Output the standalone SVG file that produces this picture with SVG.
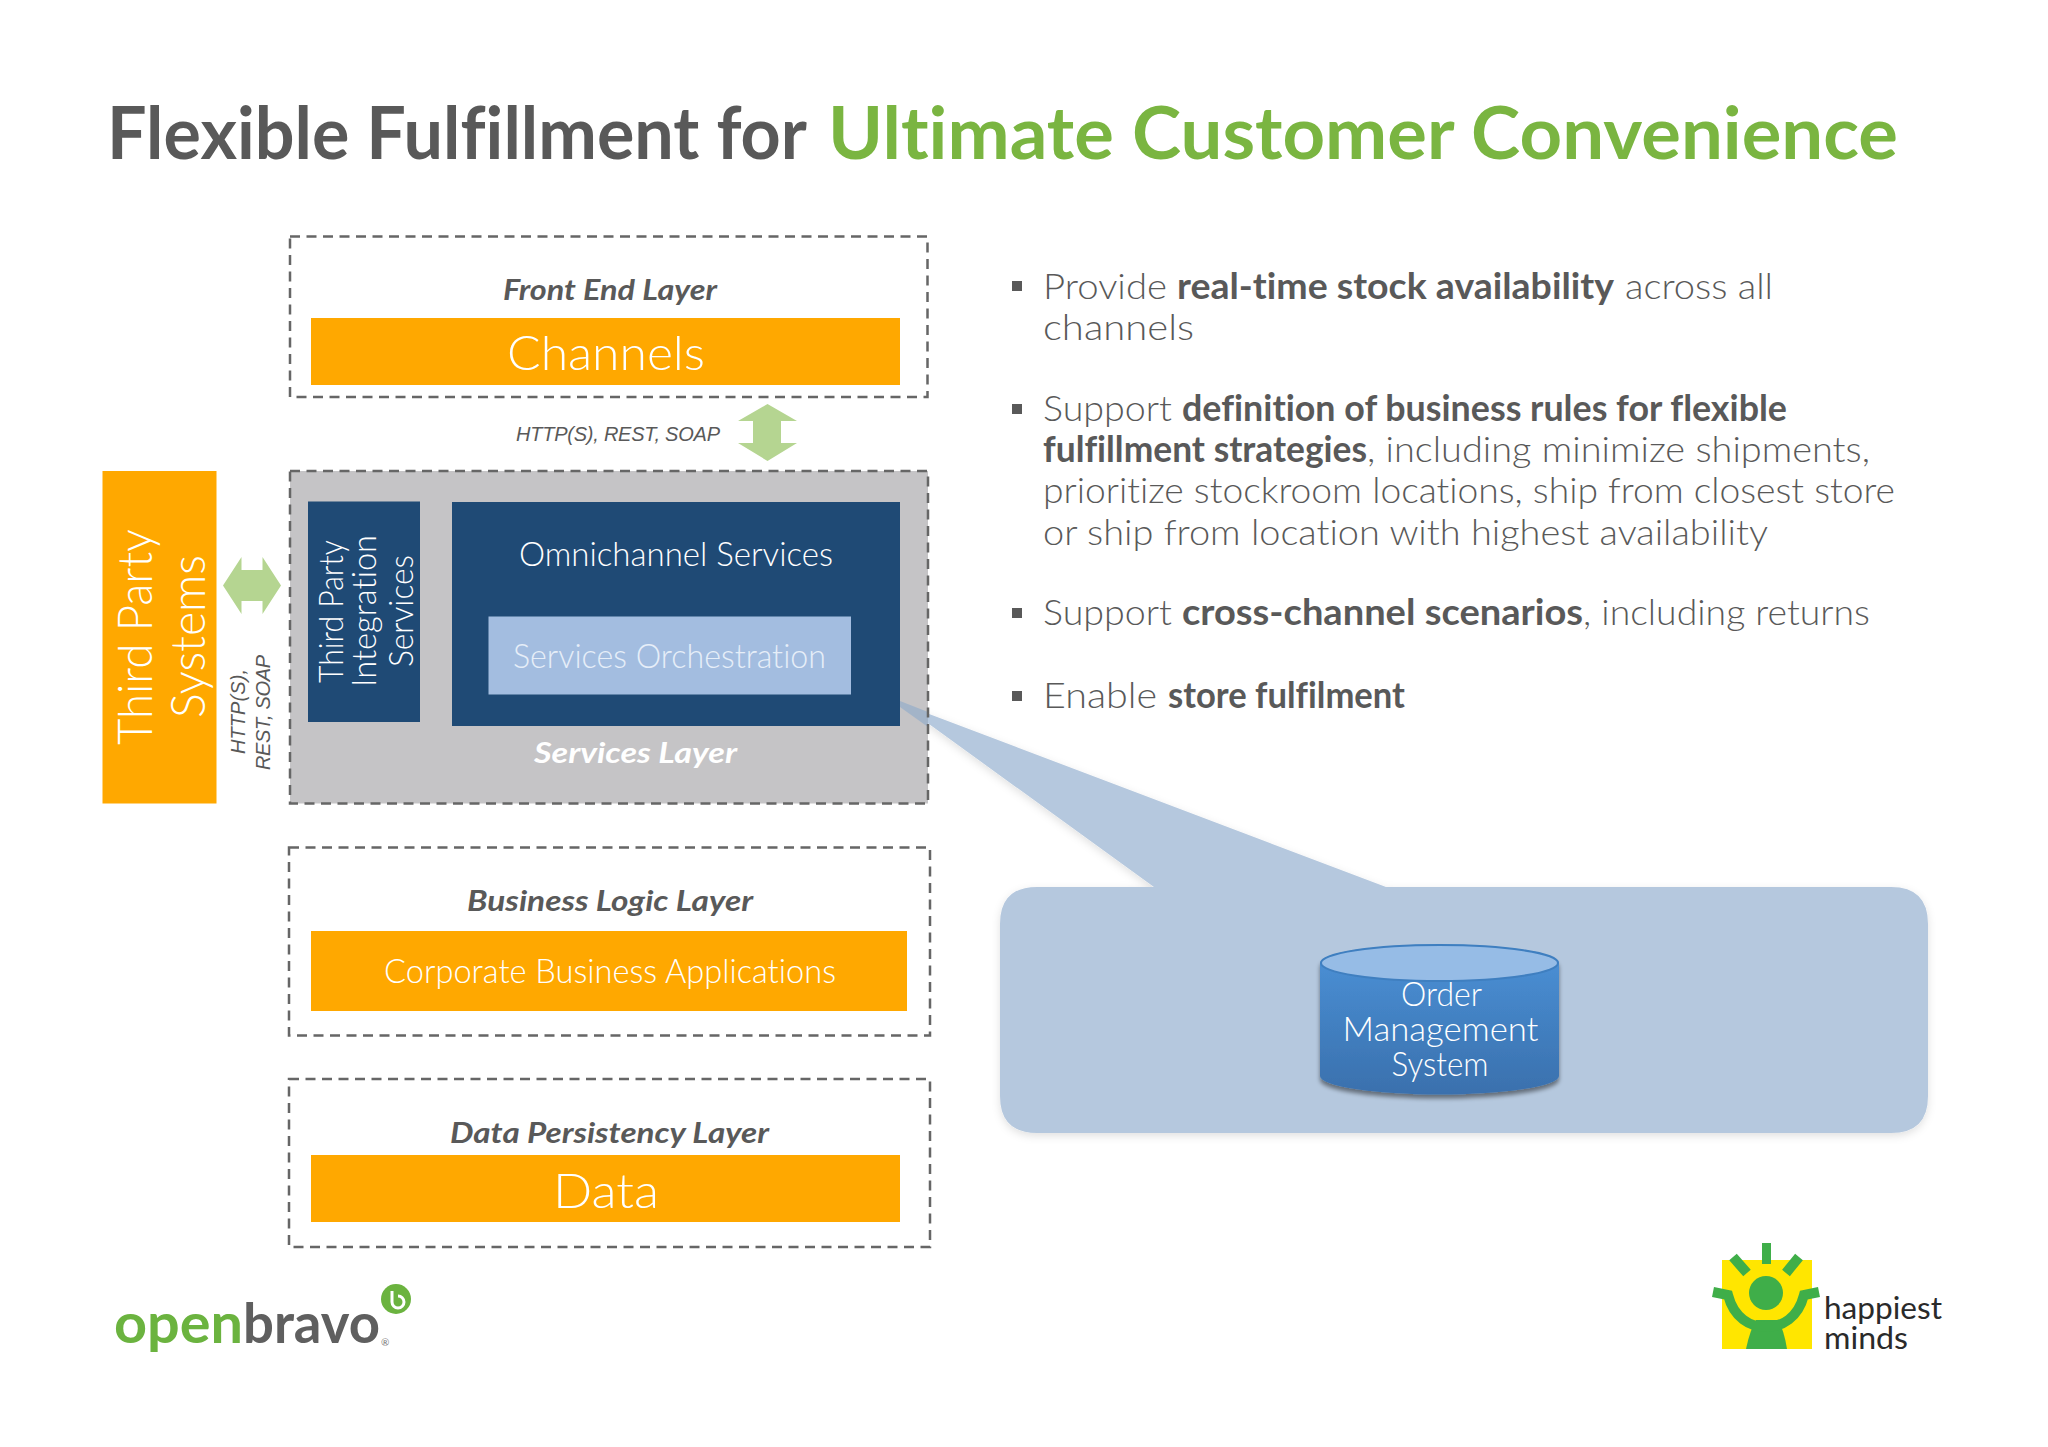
<svg xmlns="http://www.w3.org/2000/svg" width="2048" height="1447" viewBox="0 0 2048 1447">
<style>
text{font-family:"Lato","Liberation Sans",sans-serif;font-variant-ligatures:none}
.h{font-size:72px;font-weight:700}
.g{fill:#595959}.gr{fill:#7ab541}.w{fill:#fff}
.b{font-size:36px;font-weight:300;fill:#595959}
.bb{font-size:36px;font-weight:700;fill:#595959}
.lay{font-size:28px;font-weight:700;font-style:italic;fill:#595959}
.big{font-size:48px;font-weight:300;fill:#fff}
.mid{font-size:33px;font-weight:300;fill:#fff}
.proto{font-family:"Liberation Sans",Arial,sans-serif;font-size:20px;font-style:italic;fill:#595959}
.dash{fill:none;stroke:#666;stroke-width:2.5;stroke-dasharray:10 6.500}
.or{fill:#ffa800}.navy{fill:#1f4a75}.arr{fill:#b5d591}
.sq{fill:#595959}
</style>
<defs>
<linearGradient id="cyl" x1="0" y1="0" x2="0" y2="1"><stop offset="0" stop-color="#4b92d8"/><stop offset="1" stop-color="#3a70ad"/></linearGradient>
<filter id="sh" x="-5%" y="-5%" width="110%" height="115%"><feDropShadow dx="0" dy="3" stdDeviation="4" flood-color="#000" flood-opacity="0.12"/></filter>
<filter id="sh2" x="-5%" y="-5%" width="110%" height="115%"><feDropShadow dx="0" dy="4" stdDeviation="2" flood-color="#000" flood-opacity="0.45"/></filter>
</defs>
<rect width="2048" height="1447" fill="#fff"/>

<g id="title">
<text class="h g" x="107" y="159" textLength="700" lengthAdjust="spacingAndGlyphs">Flexible Fulfillment for</text>
<text class="h gr" x="828" y="159" textLength="1070" lengthAdjust="spacingAndGlyphs">Ultimate Customer Convenience</text>
</g>

<g id="connectors">
<polygon class="arr" points="767.5,404 797,421 781,421 781,443 797,443 767.5,461 738,443 753,443 753,421 738,421"/>
<polygon class="arr" points="223,585.5 241.5,557 241.5,570 262.5,570 262.5,557 281,585.5 262.5,614 262.5,601 241.5,601 241.5,614"/>
</g>

<g id="front-end-layer">
<rect class="dash" x="290" y="236.500" width="637.500" height="160.500"/>
<text class="lay" x="503" y="300" textLength="214" lengthAdjust="spacingAndGlyphs">Front End Layer</text>
</g>
<g id="channels">
<rect class="or" x="311" y="318" width="589" height="67"/>
<text class="big" x="507" y="370" textLength="198" lengthAdjust="spacingAndGlyphs">Channels</text>
</g>
<text class="proto" x="516" y="440.500" textLength="204">HTTP(S), REST, SOAP</text>

<g id="third-party-systems">
<rect class="or" x="102.500" y="471" width="114" height="332.500"/>
<text class="big" transform="translate(152,745) rotate(-90)" textLength="216" lengthAdjust="spacingAndGlyphs">Third Party</text>
<text class="big" transform="translate(205,718) rotate(-90)" textLength="163" lengthAdjust="spacingAndGlyphs">Systems</text>
</g>
<g id="third-party-protocols">
<text class="proto" transform="translate(245,754) rotate(-90)" textLength="85">HTTP(S),</text>
<text class="proto" transform="translate(270,770) rotate(-90)" textLength="115">REST, SOAP</text>
</g>

<g id="callout">
<path filter="url(#sh)" fill="#b5c8de" d="M1037,887H1154L900,703L1386,887H1891Q1928,887 1928,924V1096Q1928,1133 1891,1133H1037Q1000,1133 1000,1096V924Q1000,887 1037,887Z"/>
</g>

<g id="services-layer">
<rect x="290" y="471" width="638" height="332.500" fill="#c5c4c6"/>
<polygon points="900,701 928,712 928,727 900,707" fill="#a3b4c8"/>
<rect class="dash" x="290" y="471" width="638" height="332.500"/>
<text class="lay" style="fill:#fff" x="534" y="762.500" textLength="203" lengthAdjust="spacingAndGlyphs">Services Layer</text>
</g>
<g id="third-party-integration">
<rect class="navy" x="308" y="501.500" width="112" height="220.500"/>
<text class="mid" transform="translate(343,683) rotate(-90)" textLength="143" lengthAdjust="spacingAndGlyphs">Third Party</text>
<text class="mid" transform="translate(376,687) rotate(-90)" textLength="152" lengthAdjust="spacingAndGlyphs">Integration</text>
<text class="mid" transform="translate(413,667) rotate(-90)" textLength="112" lengthAdjust="spacingAndGlyphs">Services</text>
</g>

<g id="omnichannel-services">
<rect class="navy" x="452" y="502" width="448" height="224"/>
<text class="mid" x="519" y="566" textLength="314" lengthAdjust="spacingAndGlyphs">Omnichannel Services</text>
</g>
<g id="services-orchestration">
<rect x="488.500" y="616.500" width="362.500" height="78" fill="#a3bde0"/>
<text class="mid" style="fill:#e6eef8" x="513" y="668" textLength="313" lengthAdjust="spacingAndGlyphs">Services Orchestration</text>
</g>

<g id="business-logic-layer">
<rect class="dash" x="289" y="847.500" width="641" height="188"/>
<text class="lay" x="467" y="911" textLength="286" lengthAdjust="spacingAndGlyphs">Business Logic Layer</text>
</g>
<g id="corporate-business-applications">
<rect class="or" x="311" y="931" width="596" height="80"/>
<text class="mid" x="384" y="983" textLength="452" lengthAdjust="spacingAndGlyphs">Corporate Business Applications</text>
</g>
<g id="data-persistency-layer">
<rect class="dash" x="289" y="1079" width="641" height="168"/>
<text class="lay" x="450" y="1143" textLength="319" lengthAdjust="spacingAndGlyphs">Data Persistency Layer</text>
</g>
<g id="data">
<rect class="or" x="311" y="1155" width="589" height="67"/>
<text class="big" x="553" y="1207.500" textLength="106" lengthAdjust="spacingAndGlyphs">Data</text>
</g>

<g id="order-management-system">
<path filter="url(#sh2)" fill="url(#cyl)" d="M1320,963A119.500,18.500 0 0 1 1559,963V1076A119.500,18.500 0 0 1 1320,1076Z"/>
<ellipse cx="1439.500" cy="963" rx="118.500" ry="18" fill="#96bce6" stroke="#3f7fc0" stroke-width="2"/>
<text class="mid" x="1401" y="1006" textLength="81" lengthAdjust="spacingAndGlyphs">Order</text>
<text class="mid" x="1342.500" y="1041" textLength="196" lengthAdjust="spacingAndGlyphs">Management</text>
<text class="mid" x="1391.500" y="1076" textLength="97" lengthAdjust="spacingAndGlyphs">System</text>
</g>

<g id="bullets">
<rect class="sq" x="1012" y="281" width="10" height="10"/>
<rect class="sq" x="1012" y="404" width="10" height="10"/>
<rect class="sq" x="1012" y="608" width="10" height="10"/>
<rect class="sq" x="1012" y="691" width="10" height="10"/>
<text class="b" x="1043" y="299" textLength="124" lengthAdjust="spacingAndGlyphs">Provide</text>
<text class="bb" x="1177" y="299" textLength="437" lengthAdjust="spacingAndGlyphs">real-time stock availability</text>
<text class="b" x="1625" y="299" textLength="148" lengthAdjust="spacingAndGlyphs">across all</text>
<text class="b" x="1043" y="340" textLength="151" lengthAdjust="spacingAndGlyphs">channels</text>
<text class="b" x="1043" y="421" textLength="129" lengthAdjust="spacingAndGlyphs">Support</text>
<text class="bb" x="1182" y="421" textLength="605" lengthAdjust="spacingAndGlyphs">definition of business rules for flexible</text>
<text class="bb" x="1043" y="462" textLength="324" lengthAdjust="spacingAndGlyphs">fulfillment strategies</text>
<text class="b" x="1367" y="462" textLength="503" lengthAdjust="spacingAndGlyphs">, including minimize shipments,</text>
<text class="b" x="1043" y="503" textLength="852" lengthAdjust="spacingAndGlyphs">prioritize stockroom locations, ship from closest store</text>
<text class="b" x="1043" y="544.500" textLength="725" lengthAdjust="spacingAndGlyphs">or ship from location with highest availability</text>
<text class="b" x="1043" y="625" textLength="129" lengthAdjust="spacingAndGlyphs">Support</text>
<text class="bb" x="1182" y="625" textLength="401" lengthAdjust="spacingAndGlyphs">cross-channel scenarios</text>
<text class="b" x="1583" y="625" textLength="287" lengthAdjust="spacingAndGlyphs">, including returns</text>
<text class="b" x="1043" y="707.500" textLength="114" lengthAdjust="spacingAndGlyphs">Enable</text>
<text class="bb" x="1168" y="707.500" textLength="237" lengthAdjust="spacingAndGlyphs">store fulfilment</text>
</g>

<g id="openbravo-logo">
<text x="114" y="1343" font-size="56" font-weight="700" fill="#6bb33f" textLength="129" lengthAdjust="spacingAndGlyphs">open</text>
<text x="243" y="1343" font-size="56" font-weight="700" fill="#5f5f5f" textLength="137" lengthAdjust="spacingAndGlyphs">bravo</text>
<text x="381" y="1346" font-size="10" fill="#777">®</text>
<circle cx="396" cy="1299" r="15" fill="#6bb33f"/>
<path d="M392,1291V1302A6,6 0 1 0 398,1296" fill="none" stroke="#fff" stroke-width="3"/>
</g>

<g id="happiest-minds-logo">
<rect x="1722" y="1260" width="90" height="89" fill="#ffe600"/>
<g fill="#3fae49">
<circle cx="1766" cy="1293" r="17"/>
<rect x="1762" y="1243" width="9" height="21"/>
<path d="M1746,1349Q1750,1330 1756,1320H1778Q1784,1330 1787,1349Z"/>
</g>
<g fill="none" stroke="#3fae49" stroke-width="10">
<path d="M1733,1257L1747,1273M1799,1257L1786,1273"/>
<path d="M1713,1292L1728,1295C1734,1318 1750,1327 1766,1327C1782,1327 1798,1318 1804,1295L1819,1292"/>
</g>
<text x="1824" y="1319" font-size="31" fill="#2a2a2a" textLength="118" lengthAdjust="spacingAndGlyphs">happiest</text>
<text x="1824" y="1349" font-size="31" fill="#2a2a2a" textLength="84" lengthAdjust="spacingAndGlyphs">minds</text>
</g>
</svg>
